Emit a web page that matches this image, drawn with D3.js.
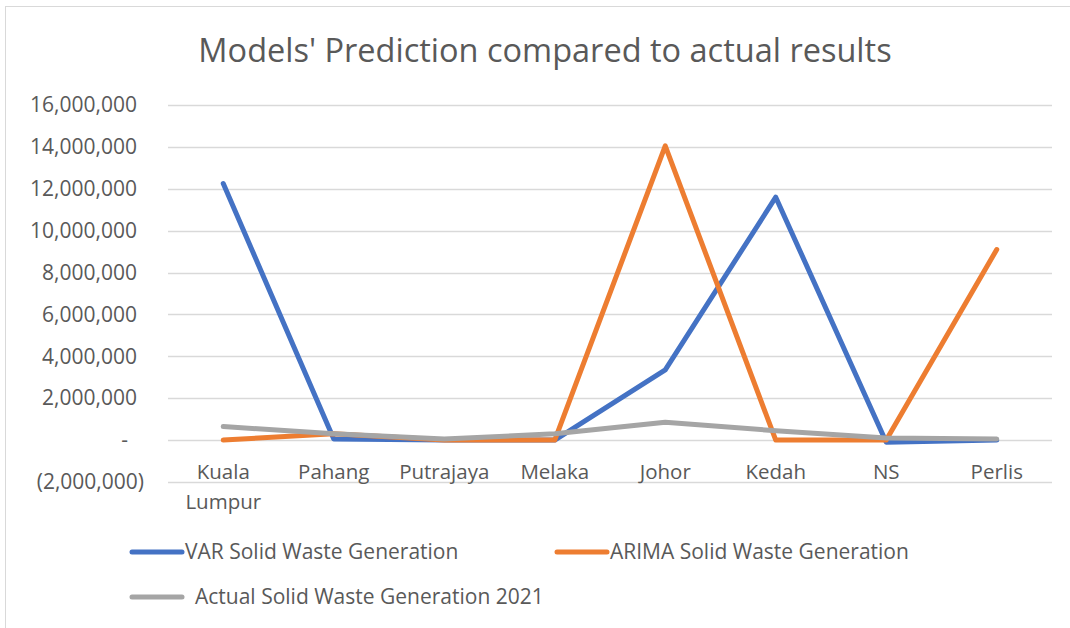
<!DOCTYPE html>
<html lang="en">
<head>
<meta charset="UTF-8">
<title>Models' Prediction compared to actual results</title>
<script src="https://d3js.org/d3.v7.min.js"></script>
<style>
  body { margin: 0; background: #fff; font-family: "Open Sans", sans-serif; }
</style>
</head>
<body>
<div id="chart"></div>
<script>
// categories and series
const states = ["Kuala Lumpur", "Pahang", "Putrajaya", "Melaka", "Johor", "Kedah", "NS", "Perlis"];
const varValues = [12250000, 50000, 0, 0, 3350000, 11600000, -100000, 0];
const arimaValues = [0, 300000, 0, 0, 14050000, 0, 0, 9100000];
const actualValues = [650000, 300000, 50000, 300000, 850000, 450000, 100000, 50000];
const yTicks = [-2000000, 0, 2000000, 4000000, 6000000, 8000000, 10000000, 12000000, 14000000, 16000000];

const seriesList = [
  { name: "VAR Solid Waste Generation", values: varValues, color: "#4472C4" },
  { name: "ARIMA Solid Waste Generation", values: arimaValues, color: "#ED7D31" },
  { name: "Actual Solid Waste Generation 2021", values: actualValues, color: "#A5A5A5" }
];

const width = 1070, height = 628;
const margin = { left: 168, right: 18, top: 105, bottom: 146 };

const svg = d3.select("#chart").append("svg")
  .attr("width", width)
  .attr("height", height);

// chart frame
svg.append("rect")
  .attr("x", 5.5).attr("y", 6.5)
  .attr("width", width + 20).attr("height", height + 20)
  .attr("fill", "none").attr("stroke", "#d9d9d9");

const x = d3.scaleBand()
  .domain(states)
  .range([margin.left, width - margin.right]);

const y = d3.scaleLinear()
  .domain([-2000000, 16000000])
  .range([height - margin.bottom, margin.top]);

// title
svg.append("text")
  .attr("x", 545).attr("y", 62)
  .attr("text-anchor", "middle")
  .attr("fill", "#595959")
  .attr("font-size", 32.5)
  .text("Models' Prediction compared to actual results");

// gridlines
svg.append("g")
  .selectAll("line")
  .data(yTicks)
  .join("line")
  .attr("x1", margin.left).attr("x2", width - margin.right)
  .attr("y1", d => Math.round(y(d)) + 0.5).attr("y2", d => Math.round(y(d)) + 0.5)
  .attr("stroke", "#d9d9d9").attr("stroke-width", 1.5);

// y axis labels
const fmt = d3.format(",");
const yAxis = svg.append("g")
  .attr("transform", `translate(${margin.left - 28},0)`)
  .call(d3.axisLeft(y).tickValues(yTicks).tickSize(0)
    .tickFormat(d => d === 0 ? "-" : d < 0 ? "(" + fmt(-d) + ")" : fmt(d)));
yAxis.select(".domain").remove();
yAxis.selectAll("text")
  .attr("fill", "#595959")
  .attr("font-size", 21)
  .attr("font-family", "Open Sans, sans-serif")
  .attr("dx", d => d < 0 ? 7 : d === 0 ? -9 : 0);

// category labels
const catLabels = svg.append("g")
  .selectAll("text")
  .data(states)
  .join("text")
  .attr("x", d => x(d) + x.bandwidth() / 2)
  .attr("y", y(0) + 39)
  .attr("text-anchor", "middle")
  .attr("fill", "#595959")
  .attr("font-size", 20.5);
catLabels.each(function(d) {
  const words = d.split(" ");
  const t = d3.select(this);
  words.forEach((w, i) => {
    t.append("tspan")
      .attr("x", x(d) + x.bandwidth() / 2)
      .attr("dy", i === 0 ? 0 : 30)
      .text(w);
  });
});

// lines
const line = d3.line()
  .x((d, i) => x(states[i]) + x.bandwidth() / 2)
  .y(d => y(d));

svg.append("g")
  .selectAll("path")
  .data(seriesList)
  .join("path")
  .attr("d", d => line(d.values))
  .attr("fill", "none")
  .attr("stroke", d => d.color)
  .attr("stroke-width", 5)
  .attr("stroke-linejoin", "round")
  .attr("stroke-linecap", "round");

// legend
const legendPos = [
  { x: 132, y: 552 },
  { x: 557, y: 552 },
  { x: 132, y: 597 }
];
const legend = svg.append("g")
  .selectAll("g")
  .data(seriesList)
  .join("g")
  .attr("transform", (d, i) => `translate(${legendPos[i].x},${legendPos[i].y})`);

legend.append("line")
  .attr("x1", 0).attr("x2", 50)
  .attr("stroke", d => d.color)
  .attr("stroke-width", 5)
  .attr("stroke-linecap", "round");

legend.append("text")
  .attr("x", (d, i) => i === 2 ? 63 : 53)
  .attr("dy", "0.35em")
  .attr("fill", "#595959")
  .attr("font-size", 21)
  .text(d => d.name);
</script>
</body>
</html>
